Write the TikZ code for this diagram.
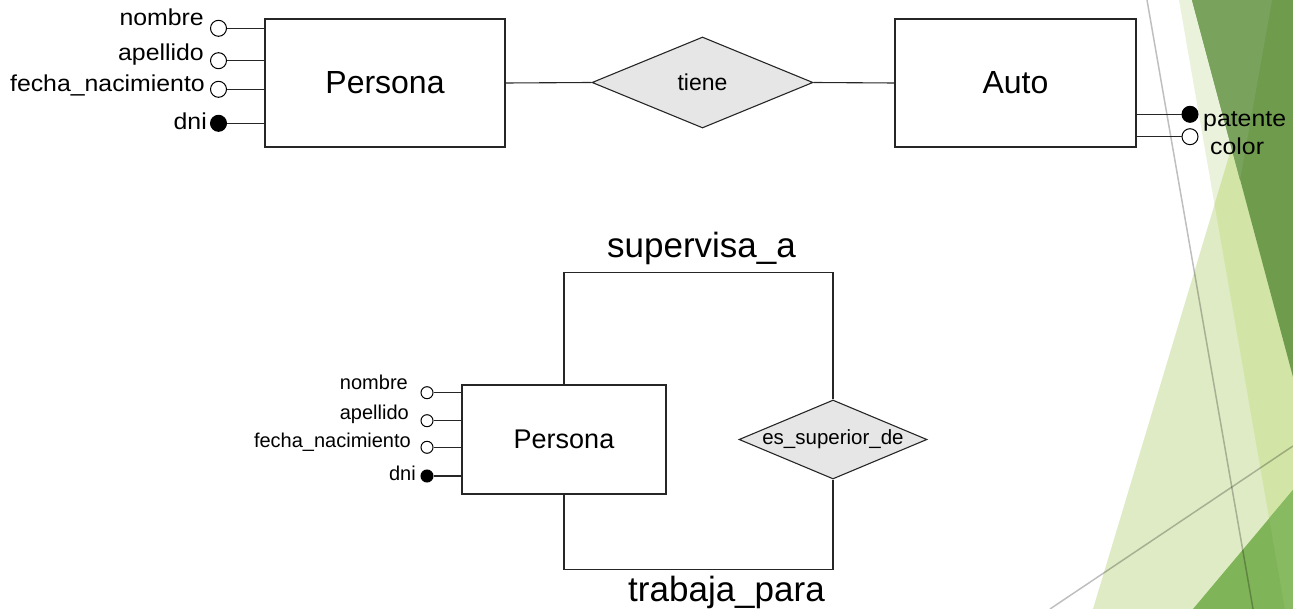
\documentclass[tikz,border=0pt]{standalone}
\usepackage{fontspec}
\setmainfont{Liberation Sans}
\newfontfamily\widesans{Liberation Sans}[FakeStretch=1.08]
\usetikzlibrary{shapes.geometric}
\definecolor{paleG}{HTML}{EAF2DC}
\definecolor{lightG}{HTML}{DFEBC4}
\definecolor{midG}{HTML}{D2E5A6}
\definecolor{darkG}{HTML}{6F9B4D}
\definecolor{darkGb}{HTML}{79A35D}
\definecolor{brightG}{HTML}{80B458}
\definecolor{brightGb}{HTML}{88BA62}
\definecolor{relfill}{HTML}{E6E6E6}
\begin{document}
\begin{tikzpicture}[x=1pt,y=-1pt,
  ent/.style={draw=black!85, line width=1.1pt, fill=white, inner sep=0pt},
  rel/.style={diamond, draw=black!85, line width=1.1pt, fill=relfill, inner sep=0pt},
  attrO/.style={circle, draw=black, line width=1pt, fill=white, inner sep=0pt},
  attrF/.style={circle, draw=black, line width=1pt, fill=black, inner sep=0pt},
  link/.style={draw=black!85, line width=1.1pt},
  deco/.style={draw=black, opacity=0.25, line width=1.5pt},
  lbl/.style={inner sep=0pt, text=black}
]
\useasboundingbox (0,0) rectangle (1293,609);
% ---------- background decoration ----------
\begin{scope}
\clip (0,0) rectangle (1293,609);
\fill[paleG] (1179,0) -- (1300,0) -- (1300,650) -- (1292,650) -- cycle;
\fill[lightG] (1093,609) -- (1276,0) -- (1500,609) -- cycle;
\begin{scope}
  \clip (1179,0) -- (1300,0) -- (1300,650) -- (1292,650) -- cycle;
  \fill[midG] (1093,609) -- (1276,0) -- (1500,609) -- cycle;
\end{scope}
\fill[darkG] (1192,0) -- (1293,0) -- (1293,377) -- cycle;
\fill[darkGb] (1192,0) -- (1272,0) -- (1240,180) -- cycle;
\fill[brightG] (1193,609) -- (1293,490) -- (1293,609) -- cycle;
\begin{scope}
  \clip (1179,0) -- (1300,0) -- (1300,650) -- (1292,650) -- cycle;
  \fill[brightGb] (1193,609) -- (1293,490) -- (1293,609) -- cycle;
\end{scope}
\draw[deco] (1147,0) -- (1253,609);
\draw[deco] (1050,609) -- (1293,446);
\end{scope}

% ---------- top diagram ----------
\node[ent, minimum width=240pt, minimum height=128pt, font=\fontsize{32}{38}\selectfont] (P1) at (385,83) {Persona};
\node[rel, minimum width=221pt, minimum height=91pt, font=\fontsize{23}{28}\selectfont] (T) at (702.5,82.5) {tiene};
\node[ent, minimum width=241pt, minimum height=128pt, font=\fontsize{32}{38}\selectfont] (A) at (1015.5,83) {Auto};
\draw[link] (P1.east) -- (T.west);
\draw[link] (T.east) -- (A.west);

\node[attrO, minimum size=16pt] (a1) at (218.5,28.3) {};
\node[attrO, minimum size=16pt] (a2) at (218.5,60.7) {};
\node[attrO, minimum size=16pt] (a3) at (218.5,89.3) {};
\node[attrF, minimum size=16pt] (a4) at (218.5,123.3) {};
\foreach \n in {a1,a2,a3,a4} \draw[link] (\n.east) -- (\n -| P1.west);
\begin{scope}[every node/.style={lbl, anchor=base east, font=\widesans\fontsize{23}{28}\selectfont}]
\node (l1) at (204,26) {nombre};
\node (l2) at (204,61) {apellido};
\node (l3) at (205,92) {fecha\_nacimiento};
\node (l4) at (207,130) {dni};
\end{scope}

\node[attrF, minimum size=16pt] (b1) at (1190,114.3) {};
\node[attrO, minimum size=16pt] (b2) at (1190,136.7) {};
\foreach \n in {b1,b2} \draw[link] (\n -| A.east) -- (\n.west);
\node[lbl, anchor=base west, font=\widesans\fontsize{23}{28}\selectfont] (lb1) at (1203,127) {patente};
\node[lbl, anchor=base west, font=\widesans\fontsize{23}{28}\selectfont] (lb2) at (1210,155) {color};

% ---------- bottom diagram ----------
\node[ent, minimum width=204pt, minimum height=109pt, font=\fontsize{27}{32}\selectfont] (P2) at (564,439.5) {Persona};
\node[rel, aspect=2.38, minimum width=188pt, minimum height=79pt, font=\fontsize{20.5}{25}\selectfont] (D) at (833,439.5) {es\_superior\_de};
\draw[link] (P2.north) -- ++(0,-112) coordinate (c1) -| (D.north);
\draw[link] (P2.south) -- ++(0,75) coordinate (c2) -| (D.south);
\node[lbl, anchor=base, font=\fontsize{35}{42}\selectfont] (s1) at (701.5,258) {supervisa\_a};
\node[lbl, anchor=base, font=\fontsize{35}{42}\selectfont] (s2) at (726.5,601) {trabaja\_para};

\node[attrO, minimum size=12pt] (e1) at (427,392.7) {};
\node[attrO, minimum size=12pt] (e2) at (427,420.7) {};
\node[attrO, minimum size=12pt] (e3) at (427,447.3) {};
\node[attrF, minimum size=12pt] (e4) at (427,476) {};
\foreach \n in {e1,e2,e3,e4} \draw[link] (\n.east) -- (\n -| P2.west);
\begin{scope}[every node/.style={lbl, anchor=base east, font=\fontsize{20}{24}\selectfont}]
\node (m1) at (408,390) {nombre};
\node (m2) at (409,419) {apellido};
\node (m3) at (411,447) {fecha\_nacimiento};
\node (m4) at (416,480) {dni};
\end{scope}
\end{tikzpicture}
\end{document}
